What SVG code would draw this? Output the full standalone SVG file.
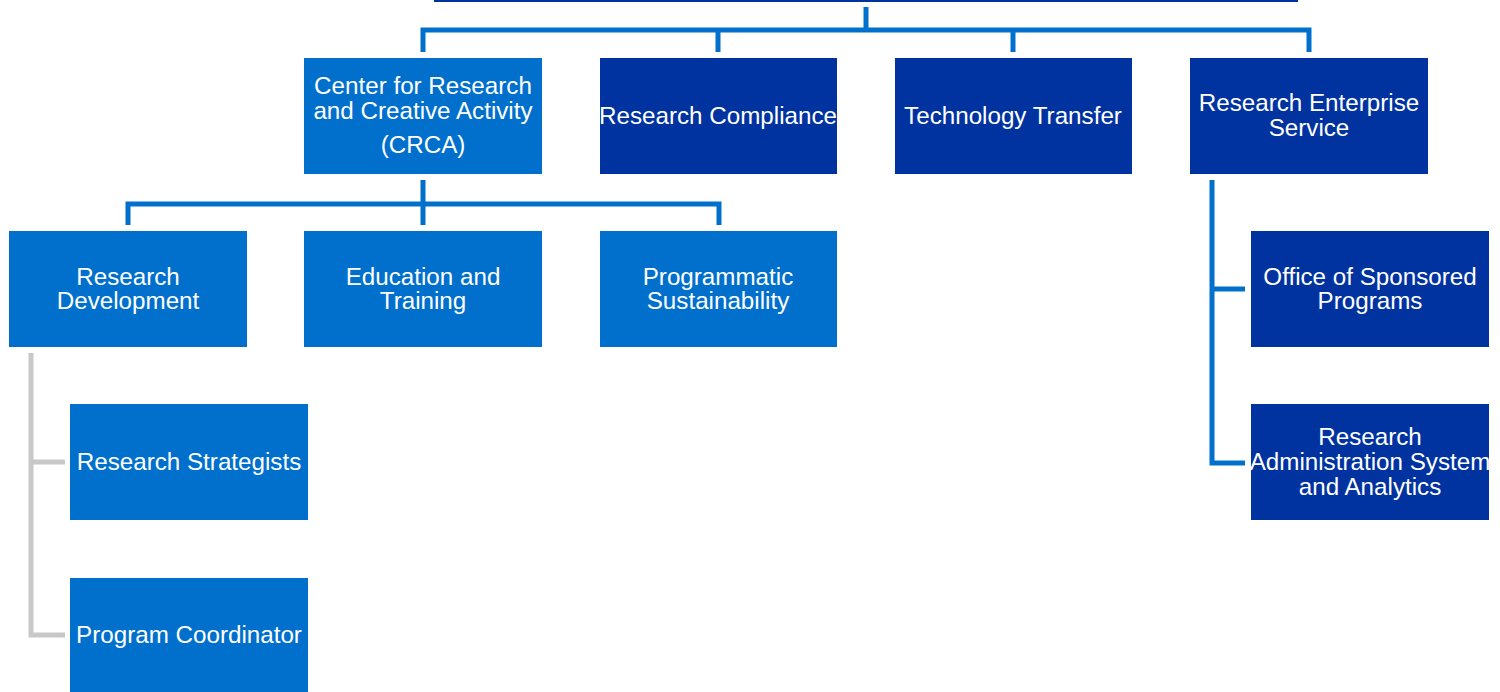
<svg xmlns="http://www.w3.org/2000/svg" width="1500" height="692" viewBox="0 0 1500 692">
<style>
.lb{fill:#0070cc}
.db{fill:#0033a0}
text{font-family:"Liberation Sans",Arial,sans-serif;font-size:24.2px;fill:#ffffff;text-anchor:middle}
.c{fill:none;stroke:#0070cc;stroke-width:5}
.g{fill:none;stroke:#c8c8c8;stroke-width:5}
</style>
<rect width="1500" height="692" fill="#ffffff"/>
<g id="connectors">
<path class="c" d="M866 7V30M423 52V30H1309V52M718 30V52M1013 30V52"/>
<path class="c" d="M423 180V225M128 225V204H719V225"/>
<path class="g" d="M31 353V635H65M31 462H65"/>
<path class="c" d="M1212 180V463H1245M1212 289H1245"/>
</g>
<g id="top"><rect class="db" x="434" y="-50" width="864" height="52"/></g>
<g id="crca"><rect class="lb" x="304" y="58" width="238" height="116"/><text x="423" y="94">Center for Research</text><text x="423" y="119">and Creative Activity</text><text x="423" y="153">(CRCA)</text></g>
<g id="compliance"><rect class="db" x="600" y="58" width="237" height="116"/><text x="718" y="124">Research Compliance</text></g>
<g id="techtransfer"><rect class="db" x="895" y="58" width="237" height="116"/><text x="1013" y="124">Technology Transfer</text></g>
<g id="res"><rect class="db" x="1190" y="58" width="238" height="116"/><text x="1309" y="111">Research Enterprise</text><text x="1309" y="136">Service</text></g>
<g id="rd"><rect class="lb" x="9" y="231" width="238" height="116"/><text x="128" y="285">Research</text><text x="128" y="309">Development</text></g>
<g id="et"><rect class="lb" x="304" y="231" width="238" height="116"/><text x="423" y="285">Education and</text><text x="423" y="309">Training</text></g>
<g id="ps"><rect class="lb" x="600" y="231" width="237" height="116"/><text x="718" y="285">Programmatic</text><text x="718" y="309">Sustainability</text></g>
<g id="osp"><rect class="db" x="1251" y="231" width="238" height="116"/><text x="1370" y="285">Office of Sponsored</text><text x="1370" y="309">Programs</text></g>
<g id="rasa"><rect class="db" x="1251" y="404" width="238" height="116"/><text x="1370" y="445">Research</text><text x="1370" y="470">Administration System</text><text x="1370" y="495">and Analytics</text></g>
<g id="rs"><rect class="lb" x="70" y="404" width="238" height="116"/><text x="189" y="470">Research Strategists</text></g>
<g id="pc"><rect class="lb" x="70" y="578" width="238" height="120"/><text x="189" y="643">Program Coordinator</text></g>
</svg>
